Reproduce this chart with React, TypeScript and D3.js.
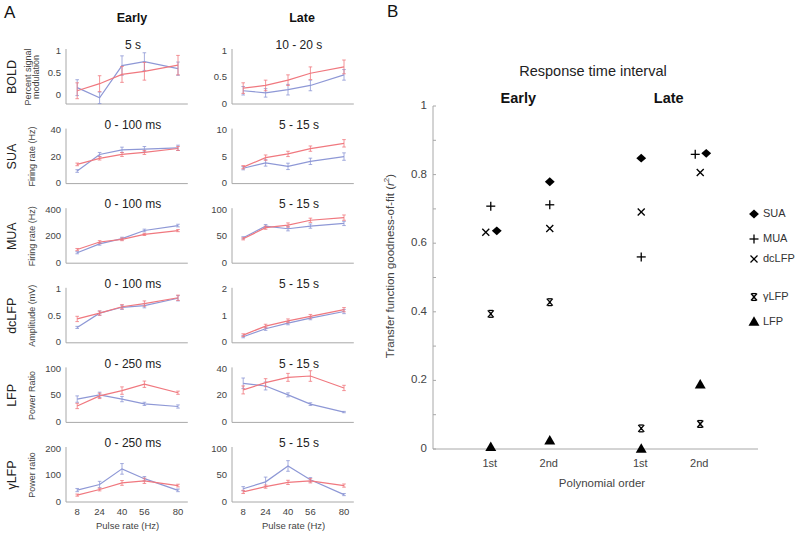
import React from "react";
import * as d3 from "d3";

// ---------- Panel A data ----------
const pulseRates = [8, 24, 40, 56, 80];
const rowNames = ["BOLD", "SUA", "MUA", "dcLFP", "LFP", "γLFP"];
const yTitles = [
  ["Percent signal", "modulation"],
  ["Firing rate (Hz)"],
  ["Firing rate (Hz)"],
  ["Amplitude (mV)"],
  ["Power Ratio"],
  ["Power ratio"],
];
const earlyWindows = ["5 s", "0 - 100 ms", "0 - 100 ms", "0 - 100 ms", "0 - 250 ms", "0 - 250 ms"];
const lateWindows = ["10 - 20 s", "5 - 15 s", "5 - 15 s", "5 - 15 s", "5 - 15 s", "5 - 15 s"];

const earlyDomains = [[-0.2, 1], [0, 40], [0, 400], [0, 1], [0, 100], [0, 200]];
const lateDomains = [[0, 1], [0, 10], [0, 100], [0, 2], [0, 40], [0, 100]];
const earlyTicks = [[0, 0.5, 1], [0, 20, 40], [0, 200, 400], [0, 0.5, 1], [0, 50, 100], [0, 100, 200]];
const lateTicks = [[0, 0.5, 1], [0, 5, 10], [0, 50, 100], [0, 1, 2], [0, 20, 40], [0, 50, 100]];

const earlyBlue = [
  [0.17, -0.06, 0.67, 0.76, 0.6],
  [9.5, 22, 25.5, 26, 27],
  [79, 146, 186, 247, 284],
  [0.29, 0.56, 0.67, 0.7, 0.84],
  [44, 52, 44, 35, 30],
  [45, 66, 125, 88, 44],
];
const earlyBlueErr = [
  [0.18, 0.13, 0.22, 0.2, 0.15],
  [1, 1.5, 2, 2, 2],
  [8, 10, 10, 10, 10],
  [0.02, 0.04, 0.04, 0.04, 0.05],
  [6, 5, 5, 3, 3],
  [6, 12, 20, 8, 5],
];
const earlyRed = [
  [0.1, 0.26, 0.47, 0.54, 0.68],
  [14.5, 19, 22, 23.5, 26.5],
  [103, 160, 180, 217, 246],
  [0.45, 0.56, 0.68, 0.74, 0.85],
  [31, 50, 60, 72, 56],
  [26, 47, 72, 80, 62],
];
const earlyRedErr = [
  [0.18, 0.18, 0.18, 0.2, 0.22],
  [1, 1.2, 1.5, 1.5, 1.5],
  [8, 10, 10, 8, 8],
  [0.05, 0.04, 0.04, 0.05, 0.05],
  [5, 5, 7, 6, 3],
  [4, 5, 9, 10, 5],
];
const lateBlue = [
  [0.25, 0.21, 0.27, 0.35, 0.55],
  [2.9, 3.9, 3.25, 4.2, 5.1],
  [48, 70, 65, 70, 75],
  [0.23, 0.53, 0.74, 0.93, 1.18],
  [29.5, 27.5, 20.8, 13.8, 7.8],
  [25, 38, 68, 42, 14],
];
const lateBlueErr = [
  [0.08, 0.08, 0.1, 0.1, 0.1],
  [0.3, 0.6, 0.6, 0.6, 0.7],
  [2, 3, 4, 4, 4],
  [0.04, 0.06, 0.06, 0.06, 0.08],
  [4, 3, 1.5, 1, 0.5],
  [4, 9, 10, 4, 2],
];
const lateRed = [
  [0.3, 0.35, 0.45, 0.58, 0.7],
  [3.1, 4.9, 5.6, 6.6, 7.6],
  [46, 67, 72, 81, 86],
  [0.29, 0.63, 0.83, 1.0, 1.25],
  [24.5, 30, 34, 35, 26],
  [19, 29, 37, 40, 31],
];
const lateRedErr = [
  [0.1, 0.1, 0.1, 0.12, 0.13],
  [0.3, 0.5, 0.5, 0.5, 0.7],
  [2, 3, 4, 4, 5],
  [0.05, 0.07, 0.07, 0.07, 0.08],
  [3, 3, 3, 4, 2],
  [3, 3, 4, 4, 3],
];

// ---------- Panel B data ----------
const groups = ["Early", "Late"];
const orders = ["1st", "2nd"];
const seriesB = ["SUA", "MUA", "dcLFP", "γLFP", "LFP"];
// values per series: [Early 1st, Early 2nd, Late 1st, Late 2nd]
const sua = [0.636, 0.779, 0.848, 0.862];
const mua = [0.708, 0.712, 0.56, 0.859];
const dclfp = [0.632, 0.643, 0.691, 0.806];
const glfp = [0.394, 0.428, 0.06, 0.073];
const lfp = [0.005, 0.024, 0.0, 0.187];
const bTicks = [0, 0.2, 0.4, 0.6, 0.8, 1];

const FONT = "'Liberation Sans', Arial, Helvetica, sans-serif";
const RED = "#f0787f";
const BLUE = "#8e98d6";
const AXIS = "#a8a8a8";
const TICKTXT = "#444";

function Series({ xs, ys, vals, errs, color }: any) {
  const line = d3
    .line<number>()
    .x((_, i) => xs(pulseRates[i]))
    .y((v) => ys(v));
  return (
    <g>
      <path d={line(vals) || ""} fill="none" stroke={color} strokeWidth={1.2} />
      {vals.map((v: number, i: number) => {
        const x = xs(pulseRates[i]);
        const y1 = ys(v - errs[i]);
        const y2 = ys(v + errs[i]);
        return (
          <g key={i} stroke={color} strokeWidth={0.8}>
            <line x1={x} x2={x} y1={y1} y2={y2} />
            <line x1={x - 1.8} x2={x + 1.8} y1={y1} y2={y1} />
            <line x1={x - 1.8} x2={x + 1.8} y1={y2} y2={y2} />
          </g>
        );
      })}
    </g>
  );
}

function SmallPanel({ row, col }: { row: number; col: number }) {
  const top = 51 + 79.6 * row;
  const bottom = top + 53;
  const x0 = col === 0 ? 66 : 232;
  const xs = d3.scaleLinear().domain([0, 87]).range([x0, x0 + 87 * 1.4]);
  const dom = col === 0 ? earlyDomains[row] : lateDomains[row];
  const ticks = col === 0 ? earlyTicks[row] : lateTicks[row];
  const ys = d3.scaleLinear().domain(dom).range([bottom, top]);
  const blue = col === 0 ? earlyBlue[row] : lateBlue[row];
  const blueErr = col === 0 ? earlyBlueErr[row] : lateBlueErr[row];
  const red = col === 0 ? earlyRed[row] : lateRed[row];
  const redErr = col === 0 ? earlyRedErr[row] : lateRedErr[row];
  const title = col === 0 ? earlyWindows[row] : lateWindows[row];
  const [xa, xb] = xs.range();
  return (
    <g>
      <text x={(xa + xb) / 2 + 6} y={top - 5} fontSize={12} textAnchor="middle" dominantBaseline="middle" fill="#222">
        {title}
      </text>
      <line x1={xa} x2={xa} y1={top - 2} y2={bottom} stroke={AXIS} />
      <line x1={xa} x2={xb} y1={bottom} y2={bottom} stroke={AXIS} />
      {ticks.map((t) => (
        <text key={t} x={xa - 5} y={ys(t)} fontSize={9.5} textAnchor="end" dominantBaseline="middle" fill={TICKTXT}>
          {t}
        </text>
      ))}
      <Series xs={xs} ys={ys} vals={blue} errs={blueErr} color={BLUE} />
      <Series xs={xs} ys={ys} vals={red} errs={redErr} color={RED} />
      {row === rowNames.length - 1 && (
        <g>
          {pulseRates.map((p) => (
            <text key={p} x={xs(p)} y={bottom + 10} fontSize={9.5} textAnchor="middle" dominantBaseline="middle" fill={TICKTXT}>
              {p}
            </text>
          ))}
          <text x={xs(44)} y={bottom + 24} fontSize={9.5} textAnchor="middle" dominantBaseline="middle" fill={TICKTXT}>
            Pulse rate (Hz)
          </text>
        </g>
      )}
    </g>
  );
}

function Marker({ type, x, y }: { type: string; x: number; y: number }) {
  if (type === "SUA") {
    const s = d3.symbol().type(d3.symbolDiamond2).size(56)();
    return <path d={s || ""} transform={`translate(${x},${y}) scale(1.05,0.95)`} fill="#000" />;
  }
  if (type === "MUA") {
    return (
      <g stroke="#000" strokeWidth={1.3}>
        <line x1={x - 4.5} x2={x + 4.5} y1={y} y2={y} />
        <line x1={x} x2={x} y1={y - 4.5} y2={y + 4.5} />
      </g>
    );
  }
  if (type === "dcLFP") {
    return (
      <g stroke="#000" strokeWidth={1.3}>
        <line x1={x - 3.5} x2={x + 3.5} y1={y - 3.5} y2={y + 3.5} />
        <line x1={x - 3.5} x2={x + 3.5} y1={y + 3.5} y2={y - 3.5} />
      </g>
    );
  }
  if (type === "γLFP") {
    return (
      <g stroke="#000" strokeWidth={1.3}>
        <line x1={x - 3} x2={x + 3} y1={y - 3.5} y2={y + 3.5} />
        <line x1={x - 3} x2={x + 3} y1={y + 3.5} y2={y - 3.5} />
        <line x1={x - 2.2} x2={x + 2.2} y1={y - 3.4} y2={y - 3.4} />
        <line x1={x - 2.2} x2={x + 2.2} y1={y + 3.4} y2={y + 3.4} />
        <line x1={x} x2={x} y1={y - 1.5} y2={y + 1.5} />
      </g>
    );
  }
  const t = d3.symbol().type(d3.symbolTriangle).size(52)();
  return <path d={t || ""} transform={`translate(${x},${y + 0.5})`} fill="#000" />;
}

function PanelB() {
  const yB = d3.scaleLinear().domain([0, 1]).range([449, 106]);
  const gx = d3.scalePoint<string>().domain(groups).range([433, 758]).padding(0.58);
  const inner = d3.scalePoint<string>().domain(orders).range([-29.5, 29.5]);
  const seriesVals = [sua, mua, dclfp, glfp, lfp];
  const cats = groups.flatMap((g) => orders.map((o) => ({ g, o })));
  const legendY = [214, 239, 259, 297, 322];
  const minor = d3.range(0, 1.0001, 0.1);
  return (
    <g fontFamily={FONT}>
      <text x={387} y={17} fontSize={17} fill="#111">B</text>
      <text x={593} y={72} fontSize={14.5} textAnchor="middle" dominantBaseline="middle" fill="#222">
        Response time interval
      </text>
      {groups.map((g) => (
        <text key={g} x={(gx(g) || 0) - 2} y={99} fontSize={14.5} fontWeight="bold" textAnchor="middle" dominantBaseline="middle" fill="#111">
          {g}
        </text>
      ))}
      <line x1={433} x2={433} y1={yB(1)} y2={yB(0)} stroke={AXIS} />
      <line x1={433} x2={758} y1={yB(0)} y2={yB(0)} stroke={AXIS} />
      {minor.map((t, i) => (
        <line key={i} x1={433} x2={436} y1={yB(t)} y2={yB(t)} stroke={AXIS} />
      ))}
      {bTicks.map((t) => (
        <text key={t} x={427} y={yB(t)} fontSize={11.5} textAnchor="end" dominantBaseline="middle" fill={TICKTXT}>
          {t}
        </text>
      ))}
      {cats.map((c, i) => (
        <text key={i} x={(gx(c.g) || 0) + (inner(c.o) || 0) - 1} y={464} fontSize={11} textAnchor="middle" dominantBaseline="middle" fill={TICKTXT}>
          {c.o}
        </text>
      ))}
      <text x={602} y={484} fontSize={11.5} textAnchor="middle" dominantBaseline="middle" fill={TICKTXT}>
        Polynomial order
      </text>
      <text transform={`translate(391,266) rotate(-90)`} fontSize={11.5} textAnchor="middle" dominantBaseline="middle" fill={TICKTXT}>
        Transfer function goodness-of-fit (<tspan fontStyle="italic">r</tspan>
        <tspan baselineShift="super" fontSize={8}>2</tspan>)
      </text>
      {cats.map((c, ci) => {
        const cx = (gx(c.g) || 0) + (inner(c.o) || 0);
        return seriesVals.map((vals, si) => {
          // dodge overlapping markers horizontally
          let dx = 0;
          seriesVals.forEach((other, oi) => {
            if (oi !== si && Math.abs(other[ci] - vals[ci]) < 0.02) dx += si < oi ? 6 : -5;
          });
          return <Marker key={`${ci}-${si}`} type={seriesB[si]} x={cx + dx} y={yB(vals[ci])} />;
        });
      })}
      {seriesB.map((s, i) => (
        <g key={s}>
          <Marker type={s} x={754} y={legendY[i]} />
          <text x={763} y={legendY[i]} fontSize={11} dominantBaseline="middle" fill="#333">
            {s}
          </text>
        </g>
      ))}
    </g>
  );
}

export default function App() {
  return (
    <svg width={800} height={534} style={{ position: "absolute", left: 0, top: 0, background: "#fff" }} fontFamily={FONT}>
      <rect width={800} height={534} fill="#fff" />
      <text x={4} y={18} fontSize={17} fill="#111">A</text>
      <text x={132} y={19} fontSize={12.5} fontWeight="bold" textAnchor="middle" dominantBaseline="middle" fill="#111">Early</text>
      <text x={302} y={19} fontSize={12.5} fontWeight="bold" textAnchor="middle" dominantBaseline="middle" fill="#111">Late</text>
      {rowNames.map((name, r) => {
        const cy = 51 + 79.6 * r + 26;
        const lines = yTitles[r];
        return (
          <g key={name}>
            <text transform={`translate(13,${cy}) rotate(-90)`} fontSize={12.5} textAnchor="middle" dominantBaseline="middle" fill="#222">
              {name}
            </text>
            {lines.map((l, li) => (
              <text
                key={li}
                transform={`translate(${lines.length === 1 ? 33 : 29 + li * 8},${cy}) rotate(-90)`}
                fontSize={9}
                textAnchor="middle"
                dominantBaseline="middle"
                fill={TICKTXT}
              >
                {l}
              </text>
            ))}
            <SmallPanel row={r} col={0} />
            <SmallPanel row={r} col={1} />
          </g>
        );
      })}
      <PanelB />
    </svg>
  );
}
